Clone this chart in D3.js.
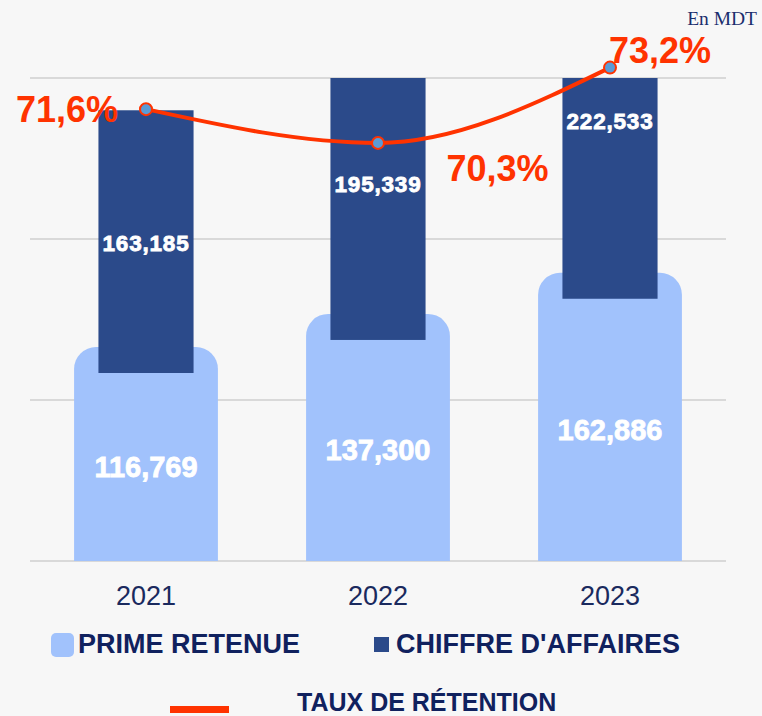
<!DOCTYPE html>
<html>
<head>
<meta charset="utf-8">
<script src="https://cdn.jsdelivr.net/npm/d3@7"></script>
<style>
	body { margin: 0; background: #f7f7f7; }
	svg { display: block; font-family: "Liberation Sans", Arial, sans-serif; }
</style>
</head>
<body>
<div id="theChart"></div>
<script>
const years = ["2021", "2022", "2023"]
const primeRetenue = [116769, 137300, 162886]
const chiffreAffaires = [163185, 195339, 222533]
const tauxRetention = [71.6, 70.3, 73.2]
const tauxLabels = ["71,6%", "70,3%", "73,2%"]
const tauxPlacement = ["left", "right", "above"]
const yTicks = [0, 100000, 200000, 300000]
const legendItems = ["PRIME RETENUE", "CHIFFRE D'AFFAIRES", "TAUX DE RÉTENTION"]

const w = 762
const h = 716
const lightBlue = "#a1c2fc"
const darkBlue = "#2b4a8a"
const red = "#ff3300"
const navy = "#10215e"

const fmt = d3.format(",")

const svg = d3
	.select("#theChart")
	.append("svg")
	.attr("width", w)
	.attr("height", h)

const x = d3.scaleBand().domain(years).range([30, 726]).padding(0)
const y = d3.scaleLinear().domain([0, 300000]).range([561, 78])
const rateY = d3.scaleLinear().domain([54.2, 72.8]).range([561, 78])

const lightW = x.bandwidth() * 0.62
const darkW = x.bandwidth() * 0.41
const cap = 26 // rounded top of the light bars sits above the value
const r = 22

// clip for the stacked dark bars
svg.append("defs")
	.append("clipPath")
	.attr("id", "plotClip")
	.append("rect")
	.attr("x", 0)
	.attr("y", y(300000))
	.attr("width", w)
	.attr("height", y(0) - y(300000))

// grid
svg.append("g")
	.selectAll("line")
	.data(yTicks)
	.enter()
	.append("line")
	.attr("x1", x.range()[0])
	.attr("x2", x.range()[1])
	.attr("y1", d => y(d))
	.attr("y2", d => y(d))
	.attr("stroke", "#d9d9d9")
	.attr("stroke-width", 2)

function lightPath(d, i) {
	const x0 = x(years[i]) + (x.bandwidth() - lightW) / 2
	const x1 = x0 + lightW
	const top = y(d) - cap
	const b = y(0)
	return `M${x0},${b}V${top + r}A${r},${r} 0 0 1 ${x0 + r},${top}H${x1 - r}A${r},${r} 0 0 1 ${x1},${top + r}V${b}Z`
}

svg.append("g")
	.selectAll("path")
	.data(primeRetenue)
	.enter()
	.append("path")
	.attr("d", lightPath)
	.attr("fill", lightBlue)

svg.append("g")
	.attr("clip-path", "url(#plotClip)")
	.selectAll("rect")
	.data(chiffreAffaires)
	.enter()
	.append("rect")
	.attr("x", (d, i) => x(years[i]) + (x.bandwidth() - darkW) / 2)
	.attr("width", darkW)
	.attr("y", (d, i) => y(primeRetenue[i] + d))
	.attr("height", (d, i) => y(primeRetenue[i]) - y(primeRetenue[i] + d))
	.attr("fill", darkBlue)

// bar values
svg.append("g")
	.selectAll("text")
	.data(primeRetenue)
	.enter()
	.append("text")
	.attr("x", (d, i) => x(years[i]) + x.bandwidth() / 2)
	.attr("y", d => (y(0) + y(d)) / 2 + 10)
	.attr("text-anchor", "middle")
	.attr("fill", "#ffffff")
	.attr("stroke", "#ffffff")
	.attr("stroke-width", 0.8)
	.attr("font-weight", "bold")
	.attr("font-size", 29)
	.text(d => fmt(d))

svg.append("g")
	.selectAll("text")
	.data(chiffreAffaires)
	.enter()
	.append("text")
	.attr("x", (d, i) => x(years[i]) + x.bandwidth() / 2)
	.attr("y", (d, i) => (y(primeRetenue[i]) + y(primeRetenue[i] + d)) / 2 + 9)
	.attr("text-anchor", "middle")
	.attr("fill", "#ffffff")
	.attr("stroke", "#ffffff")
	.attr("stroke-width", 0.8)
	.attr("font-weight", "bold")
	.attr("font-size", 22.5)
	.attr("letter-spacing", 0.8)
	.text(d => fmt(d))

// retention line
const line = d3
	.line()
	.x((d, i) => x(years[i]) + x.bandwidth() / 2)
	.y(d => rateY(d))
	.curve(d3.curveMonotoneX)

svg.append("path")
	.datum(tauxRetention)
	.attr("d", line)
	.attr("fill", "none")
	.attr("stroke", red)
	.attr("stroke-width", 4)

svg.append("g")
	.selectAll("circle")
	.data(tauxRetention)
	.enter()
	.append("circle")
	.attr("cx", (d, i) => x(years[i]) + x.bandwidth() / 2)
	.attr("cy", d => rateY(d))
	.attr("r", 6)
	.attr("fill", "#5b9bd5")
	.attr("stroke", red)
	.attr("stroke-width", 2)

svg.append("g")
	.selectAll("text")
	.data(tauxRetention)
	.enter()
	.append("text")
	.attr("x", (d, i) => {
		const cx = x(years[i]) + x.bandwidth() / 2
		if (tauxPlacement[i] === "left") return cx - 28
		if (tauxPlacement[i] === "right") return cx + darkW / 2 + 21
		return cx - 1
	})
	.attr("y", (d, i) => {
		const cy = rateY(d)
		if (tauxPlacement[i] === "left") return cy + 13
		if (tauxPlacement[i] === "right") return cy + 38
		return cy - 5
	})
	.attr("text-anchor", (d, i) => (tauxPlacement[i] === "left" ? "end" : "start"))
	.attr("fill", red)
	.attr("font-weight", "bold")
	.attr("font-size", 36)
	.text((d, i) => tauxLabels[i])

// x axis labels
svg.append("g")
	.selectAll("text")
	.data(years)
	.enter()
	.append("text")
	.attr("x", d => x(d) + x.bandwidth() / 2)
	.attr("y", 605)
	.attr("text-anchor", "middle")
	.attr("fill", "#1a2a5e")
	.attr("font-size", 27)
	.text(d => d)

// unit
svg.append("text")
	.attr("x", 757)
	.attr("y", 25)
	.attr("text-anchor", "end")
	.attr("font-family", "'Liberation Serif', 'Times New Roman', serif")
	.attr("font-size", 19.5)
	.attr("fill", "#1a2e6e")
	.text("En MDT")

// legend
const legend = svg.append("g").attr("id", "legend")

legend.append("rect")
	.attr("x", 51).attr("y", 633)
	.attr("width", 23).attr("height", 24)
	.attr("rx", 5)
	.attr("fill", lightBlue)
legend.append("text")
	.attr("x", 78).attr("y", 653)
	.attr("font-size", 27).attr("font-weight", "bold")
	.attr("fill", navy)
	.text(legendItems[0])

legend.append("rect")
	.attr("x", 374).attr("y", 637)
	.attr("width", 15).attr("height", 15)
	.attr("fill", darkBlue)
legend.append("text")
	.attr("x", 396).attr("y", 653)
	.attr("font-size", 27).attr("font-weight", "bold")
	.attr("fill", navy)
	.text(legendItems[1])

legend.append("rect")
	.attr("x", 170).attr("y", 706)
	.attr("width", 59).attr("height", 7)
	.attr("fill", red)
legend.append("text")
	.attr("x", 297).attr("y", 711)
	.attr("font-size", 25).attr("font-weight", "bold")
	.attr("fill", navy)
	.text(legendItems[2])
</script>
</body>
</html>
